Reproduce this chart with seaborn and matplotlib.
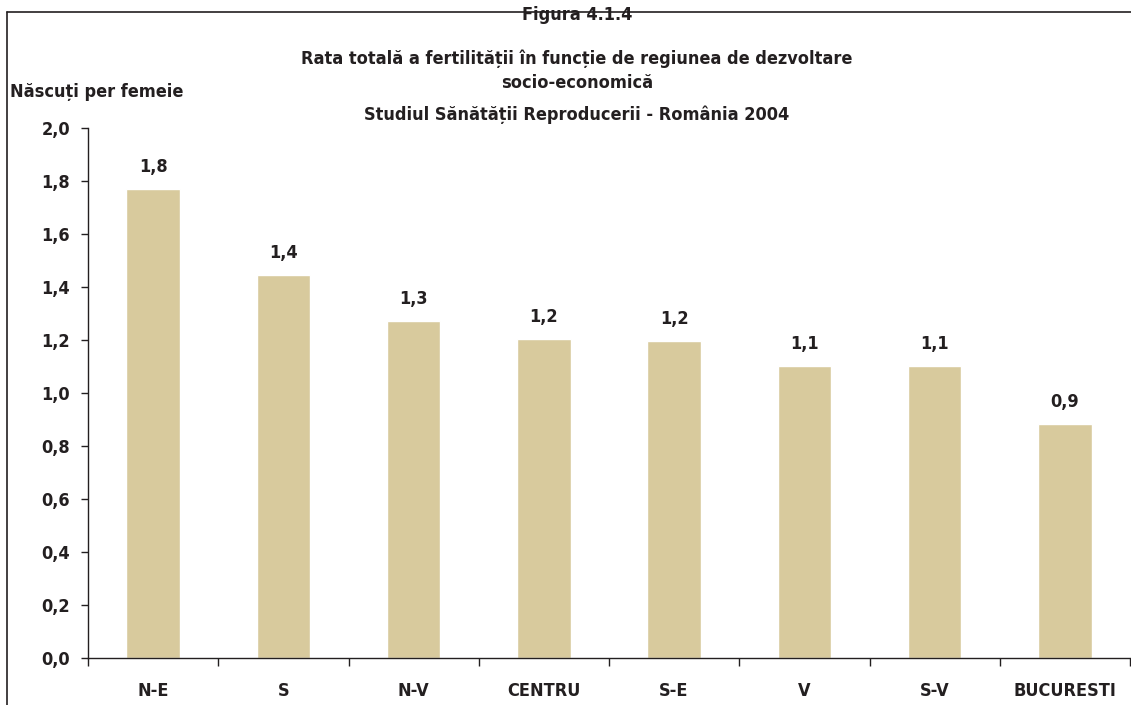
import matplotlib
matplotlib.use("Agg")
import matplotlib.pyplot as plt
from matplotlib import font_manager
from matplotlib.lines import Line2D
import pandas as pd
import seaborn as sns

regions = ["N-E", "S", "N-V", "CENTRU", "S-E", "V", "S-V", "BUCURESTI"]
rates = [1.77, 1.445, 1.272, 1.204, 1.196, 1.102, 1.102, 0.883]
rate_labels = ["1,8", "1,4", "1,3", "1,2", "1,2", "1,1", "1,1", "0,9"]
y_ticks = [0.0, 0.2, 0.4, 0.6, 0.8, 1.0, 1.2, 1.4, 1.6, 1.8, 2.0]
y_tick_labels = ["0,0", "0,2", "0,4", "0,6", "0,8", "1,0", "1,2", "1,4", "1,6", "1,8", "2,0"]

title_lines = [
    "Figura 4.1.4",
    "Rata totală a fertilității în funcție de regiunea de dezvoltare",
    "socio-economică",
    "Studiul Sănătății Reproducerii - România 2004",
]

print(sorted({(f.name, f.stretch) for f in font_manager.fontManager.ttflist}))

sns.set_style("white")
plt.rcParams["font.family"] = ["DejaVu Sans"]
plt.rcParams["font.stretch"] = "condensed"
plt.rcParams["font.weight"] = "bold"

df = pd.DataFrame({"region": regions, "rate": rates})

fig = plt.figure(figsize=(11.31, 7.05), dpi=100)
ax = fig.add_axes([88 / 1131, 47 / 705, 1042 / 1131, 530 / 705])

sns.barplot(data=df, x="region", y="rate", color="#D8CA9D", saturation=1,
            width=0.41, ax=ax)

for i, (v, lab) in enumerate(zip(rates, rate_labels)):
    ax.text(i, v + 0.05, lab, ha="center", va="bottom", fontsize=13,
            fontweight="bold", color="#231F20")

ax.set_ylim(0, 2.0)
ax.set_xlim(-0.5, len(regions) - 0.5)
ax.set_yticks(y_ticks)
ax.set_yticklabels(y_tick_labels, fontsize=13, fontweight="bold", color="#231F20")
ax.set_xticks(range(len(regions)))
ax.set_xticklabels(regions, fontsize=13, fontweight="bold", color="#231F20")
ax.tick_params(axis="x", length=0, pad=17)
ax.tick_params(axis="y", length=5, width=1, color="#231F20", direction="out", pad=8, left=True)
# category separator ticks on the x axis
ax.set_xticks([i - 0.5 for i in range(len(regions) + 1)], minor=True)
ax.tick_params(axis="x", which="minor", length=6, width=1, color="#231F20", direction="out", bottom=True)
ax.set_xlabel("")
ax.set_ylabel("")
sns.despine(ax=ax, top=True, right=True)
for s in ("left", "bottom"):
    ax.spines[s].set_color("#231F20")
    ax.spines[s].set_linewidth(1)

fig.text(10 / 1131, 1 - 92 / 705, "Născuți per femeie", fontsize=13,
         fontweight="bold", ha="left", va="center", color="#231F20")

for line, y in zip(title_lines, [15, 59, 83, 115]):
    fig.text(577 / 1131, 1 - y / 705, line, fontsize=13, fontweight="bold",
             ha="center", va="center", color="#231F20")

# frame border (left and top edges visible)
fig.add_artist(Line2D([7 / 1131, 7 / 1131], [0, 1 - 12 / 705], transform=fig.transFigure,
                      color="#231F20", linewidth=1.2))
fig.add_artist(Line2D([7 / 1131, 1], [1 - 12 / 705, 1 - 12 / 705], transform=fig.transFigure,
                      color="#231F20", linewidth=1.2))

fig.savefig("out.png", dpi=100)
